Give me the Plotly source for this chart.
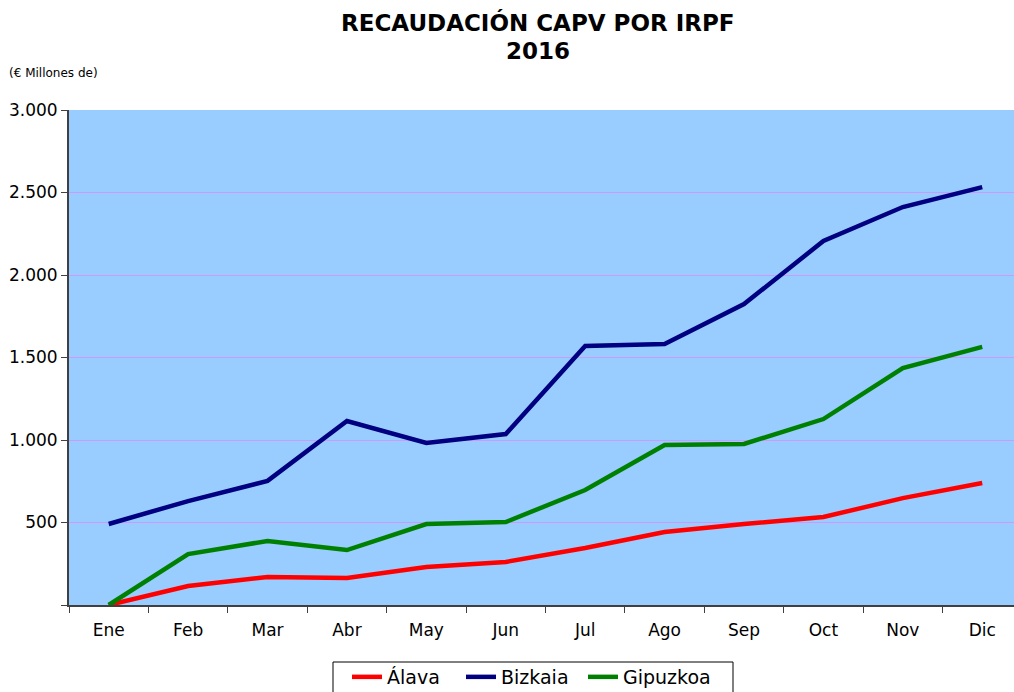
import plotly.graph_objects as go

months = ["Ene", "Feb", "Mar", "Abr", "May", "Jun", "Jul", "Ago", "Sep", "Oct", "Nov", "Dic"]
alava = [0, 115, 170, 164, 230, 261, 345, 442, 491, 533, 648, 739]
bizkaia = [491, 630, 752, 1115, 982, 1036, 1570, 1582, 1824, 2206, 2412, 2533]
gipuzkoa = [0, 309, 388, 333, 491, 503, 697, 970, 976, 1127, 1436, 1564]
ytick_vals = [0, 500, 1000, 1500, 2000, 2500, 3000]
ytick_text = ["", "500", "1.000", "1.500", "2.000", "2.500", "3.000"]

FONT = "DejaVu Sans, sans-serif"
BOLD = "DejaVu Sans, sans-serif"

W, H = 1014, 692
L, R, T, B = 69, 0, 110, 87
pw = W - L - R
ph = H - T - B

def px_x(page_x):
    return (page_x - L) / pw

def px_y(page_y):
    return ((H - B) - page_y) / ph

series = [("Álava", alava, "#FF0000", "legend", 347),
          ("Bizkaia", bizkaia, "#000080", "legend2", 461),
          ("Gipuzkoa", gipuzkoa, "#008000", "legend3", 583)]

fig = go.Figure()
legends = {}
for name, vals, color, leg, lx in series:
    fig.add_trace(go.Scatter(x=months, y=vals, name=name, mode="lines", legend=leg,
                             line=dict(color=color, width=4.5)))
    legends[leg] = dict(orientation="h", x=px_x(lx), xanchor="left", y=px_y(658), yanchor="top",
                        bgcolor="rgba(0,0,0,0)", borderwidth=0, font=dict(size=19, family=FONT),
                        itemwidth=30)

fig.update_layout(
    width=W, height=H,
    margin=dict(l=L, r=R, t=T, b=B, autoexpand=False),
    paper_bgcolor="white", plot_bgcolor="#99CCFF",
    font=dict(family=FONT, color="black"),
    showlegend=True,
    xaxis=dict(type="category", range=[-0.5, 11.4], showgrid=False, showline=True,
               linecolor="#404040", linewidth=2,
               ticks="outside", tickson="boundaries", ticklen=6, tickcolor="#404040",
               tickfont=dict(size=17, family=FONT), ticklabelstandoff=9),
    yaxis=dict(range=[0, 3000], tickvals=ytick_vals, ticktext=ytick_text, showgrid=True,
               gridcolor="#CC99FF", gridwidth=1, showline=True, linecolor="#404040", linewidth=2,
               ticks="outside", ticklen=6, tickcolor="#404040", zeroline=False,
               tickfont=dict(size=17, family=FONT)),
    shapes=[dict(type="rect", xref="paper", yref="paper",
                 x0=px_x(333), x1=px_x(733), y0=px_y(662), y1=px_y(700),
                 line=dict(color="black", width=1), fillcolor="rgba(0,0,0,0)", layer="below")],
    annotations=[
        dict(text="(€ Millones de)", x=px_x(7), y=px_y(73), xref="paper", yref="paper",
             xanchor="left", yanchor="middle", showarrow=False, font=dict(size=12, family=FONT)),
        dict(text="<b>RECAUDACIÓN CAPV POR IRPF</b>", x=px_x(538), y=px_y(23),
             xref="paper", yref="paper", xanchor="center", yanchor="middle", showarrow=False,
             font=dict(size=23, family=BOLD, color="black")),
        dict(text="<b>2016</b>", x=px_x(538), y=px_y(51),
             xref="paper", yref="paper", xanchor="center", yanchor="middle", showarrow=False,
             font=dict(size=23, family=BOLD, color="black")),
    ],
    **legends,
)

fig.write_html("out.html", config={"displayModeBar": False},
               post_script="document.body.style.margin='0';document.body.style.overflow='hidden';")
